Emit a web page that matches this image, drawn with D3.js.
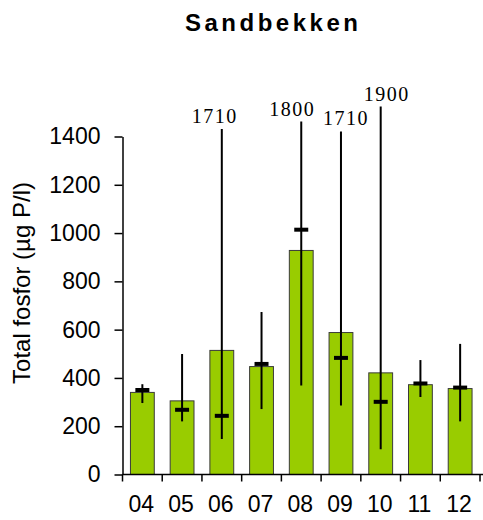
<!DOCTYPE html>
<html>
<head>
<meta charset="utf-8">
<script src="https://cdn.jsdelivr.net/npm/d3@7"></script>
<style>
  body { margin: 0; background: #fff; }
  svg { display: block; }
</style>
</head>
<body>
<div id="container"></div>
<script>
const years = ["04", "05", "06", "07", "08", "09", "10", "11", "12"];
const meanValues = [340, 305, 514, 447, 928, 588, 421, 372, 356];
const medianValues = [350, 268, 243, 458, 1014, 483, 301, 377, 360];
const minValues = [296, 220, 147, 271, 369, 286, 105, 321, 220];
const maxValues = [374, 499, 1710, 673, 1800, 1710, 1900, 474, 541];
// where the off-scale whiskers are cut in the picture (axis units)
const maxShown = [null, null, 1431, null, 1462, 1421, 1524, null, null];
const yTicks = [0, 200, 400, 600, 800, 1000, 1200, 1400];

const width = 483, height = 520;

const svg = d3
  .select("#container")
  .append("svg")
  .attr("width", width)
  .attr("height", height);

const x = d3.scaleBand().domain(years).range([122.5, 480]).padding(0);
const y = d3.scaleLinear().domain([0, 1400]).range([474.5, 136.5]);
const step = x.step();
const barW = step * 0.6;
const cx = (d) => x(d) + step / 2;

const data = years.map((d, i) => ({
  year: d,
  mean: meanValues[i],
  median: medianValues[i],
  min: minValues[i],
  max: maxValues[i],
  top: maxShown[i] === null ? maxValues[i] : maxShown[i],
  clipped: maxShown[i] !== null,
}));

//Title
svg
  .append("text")
  .attr("x", 185)
  .attr("y", 31)
  .attr("font-family", "Liberation Sans, Arial, sans-serif")
  .attr("font-weight", "bold")
  .attr("font-size", "24px")
  .attr("letter-spacing", "3.5px")
  .text("Sandbekken");

//Bars
svg
  .selectAll(".bar")
  .data(data)
  .enter()
  .append("rect")
  .attr("class", "bar")
  .attr("x", (d) => x(d.year) + (step - barW) / 2)
  .attr("y", (d) => y(d.mean))
  .attr("width", barW)
  .attr("height", (d) => y(0) - y(d.mean))
  .style("fill", "#99cc00")
  .style("stroke", "#3a3a3a")
  .style("stroke-width", 1);

//Range lines
svg
  .selectAll(".range")
  .data(data)
  .enter()
  .append("line")
  .attr("x1", (d) => cx(d.year))
  .attr("x2", (d) => cx(d.year))
  .attr("y1", (d) => y(d.min))
  .attr("y2", (d) => y(d.top))
  .style("stroke", "black")
  .style("stroke-width", 2);

//Median marks
svg
  .selectAll(".median")
  .data(data)
  .enter()
  .append("line")
  .attr("x1", (d) => cx(d.year) - 7)
  .attr("x2", (d) => cx(d.year) + 7)
  .attr("y1", (d) => y(d.median))
  .attr("y2", (d) => y(d.median))
  .style("stroke", "black")
  .style("stroke-width", 4);

//Labels for cut whiskers
const labelShift = { "06": -7, "08": -9, "09": 5, 10: 6 };
svg
  .selectAll(".maxlabel")
  .data(data.filter((d) => d.clipped))
  .enter()
  .append("text")
  .attr("x", (d) => cx(d.year) + (labelShift[d.year] || 0))
  .attr("y", (d) => y(d.top) - 6)
  .attr("text-anchor", "middle")
  .attr("font-family", "Liberation Serif, Times New Roman, serif")
  .attr("font-size", "20px")
  .attr("letter-spacing", "1.5px")
  .text((d) => d.max);

//Y axis
const yAxis = svg
  .append("g")
  .attr("transform", `translate(${x.range()[0]},0)`)
  .call(
    d3
      .axisLeft(y)
      .tickValues(yTicks)
      .tickFormat(d3.format("d"))
      .tickSize(8)
      .tickSizeOuter(0)
      .tickPadding(14)
  );
yAxis.select(".domain").attr("stroke-width", 1.5);
yAxis.selectAll(".tick line").attr("stroke-width", 1.5);
yAxis
  .selectAll("text")
  .attr("font-family", "Liberation Sans, Arial, sans-serif")
  .attr("font-size", "23px")
  .attr("fill", "black");

//X axis
const xAxis = svg.append("g").attr("transform", `translate(0,${y(0)})`);
xAxis
  .append("line")
  .attr("x1", x.range()[0])
  .attr("x2", width)
  .attr("y1", 0)
  .attr("y2", 0)
  .style("stroke", "black")
  .style("stroke-width", 1.5);
xAxis
  .selectAll(".xtick")
  .data(years.concat(["end"]))
  .enter()
  .append("line")
  .attr("x1", (d) => (d === "end" ? x.range()[1] : x(d)))
  .attr("x2", (d) => (d === "end" ? x.range()[1] : x(d)))
  .attr("y1", 0)
  .attr("y2", 7)
  .style("stroke", "black")
  .style("stroke-width", 1.5);
xAxis
  .selectAll(".xlabel")
  .data(years)
  .enter()
  .append("text")
  .attr("x", (d) => cx(d) - 1)
  .attr("y", 37)
  .attr("text-anchor", "middle")
  .attr("font-family", "Liberation Sans, Arial, sans-serif")
  .attr("font-size", "23px")
  .text((d) => d);

//Y axis title
svg
  .append("text")
  .attr("transform", "translate(30,283) rotate(-90)")
  .attr("text-anchor", "middle")
  .attr("font-family", "Liberation Sans, Arial, sans-serif")
  .attr("font-size", "24px")
  .text("Total fosfor (µg P/l)");
</script>
</body>
</html>
